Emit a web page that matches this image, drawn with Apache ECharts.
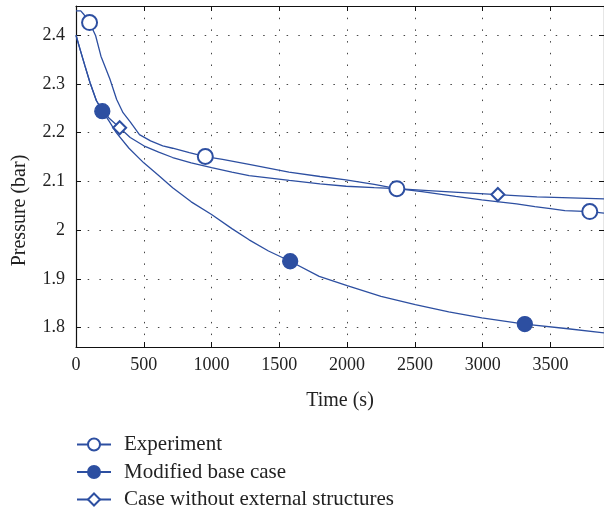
<!DOCTYPE html>
<html>
<head>
<meta charset="utf-8">
<script src="https://cdn.jsdelivr.net/npm/echarts@6/dist/echarts.min.js"></script>
<style>
html, body { margin: 0; padding: 0; background: #fff; }
#chart { width: 604px; height: 509px; }
</style>
</head>
<body>
<div id="chart"></div>
<script>
// values
const xTicks = [0, 500, 1000, 1500, 2000, 2500, 3000, 3500];
const yTicks = [1.8, 1.9, 2, 2.1, 2.2, 2.3, 2.4];

const expTime = [0, 35, 60, 100, 145, 184, 250, 300, 347, 400, 468, 550, 640, 713, 836, 954, 1081, 1277, 1571, 1800, 1991, 2200, 2367, 2552, 2800, 2993, 3120, 3250, 3385, 3500, 3606, 3700, 3790, 3895];
const expP = [2.450, 2.450, 2.442, 2.426, 2.399, 2.357, 2.310, 2.268, 2.241, 2.222, 2.196, 2.183, 2.173, 2.168, 2.159, 2.151, 2.145, 2.135, 2.119, 2.110, 2.103, 2.094, 2.085, 2.079, 2.069, 2.062, 2.058, 2.054, 2.048, 2.044, 2.040, 2.039, 2.038, 2.035];
const expMarks = [100, 954, 2367, 3790];

const modTime = [0, 30, 66, 103, 150, 194, 243, 297, 391, 500, 610, 713, 850, 1000, 1150, 1277, 1420, 1580, 1794, 2000, 2250, 2503, 2750, 2994, 3311, 3613, 3895];
const modP = [2.400, 2.371, 2.337, 2.303, 2.266, 2.244, 2.224, 2.200, 2.168, 2.138, 2.112, 2.087, 2.058, 2.032, 2.003, 1.980, 1.957, 1.936, 1.905, 1.886, 1.864, 1.847, 1.832, 1.820, 1.807, 1.798, 1.789];
const modMarks = [194, 1580, 3311];

const noExtTime = [0, 30, 66, 103, 150, 194, 243, 322, 400, 500, 610, 713, 850, 1000, 1150, 1277, 1574, 1800, 1993, 2200, 2367, 2600, 2850, 3112, 3400, 3650, 3895];
const noExtP = [2.400, 2.371, 2.337, 2.303, 2.266, 2.246, 2.230, 2.210, 2.190, 2.173, 2.160, 2.149, 2.138, 2.128, 2.119, 2.112, 2.102, 2.095, 2.090, 2.087, 2.085, 2.081, 2.077, 2.073, 2.068, 2.066, 2.064];
const noExtMarks = [322, 3112];

const names = ['Experiment', 'Modified base case', 'Case without external structures'];

const blue = '#2d4fa1';
const serif = 'Liberation Serif';

function points(ts, ps, marks) {
	return ts.map((t, i) => marks.indexOf(t) >= 0
		? {value: [t, ps[i]]}
		: {value: [t, ps[i]], symbol: 'none'});
}

function lineSeries(name, data, symbol, size) {
	return {
		name: name,
		type: 'line',
		data: data,
		symbol: symbol,
		symbolSize: size,
		showAllSymbol: true,
		lineStyle: { color: blue, width: 1.3 },
		itemStyle: { color: blue, borderColor: blue, borderWidth: 1.3 },
		emphasis: { disabled: true },
		animation: false
	};
}

const tickStyle = { inside: true, length: 5, lineStyle: { color: '#111', width: 1 } };
const dotted = { show: true, lineStyle: { color: '#444', width: 1, type: [1.5, 10.2] } };
const axisLine = { show: true, onZero: false, lineStyle: { color: '#111', width: 1.2 } };
const labelText = { color: '#222', fontFamily: serif, fontSize: 18, formatter: v => String(v) };

const chart = echarts.init(document.getElementById('chart'));
chart.setOption({
	animation: false,
	grid: { left: 76, top: 6, width: 530, height: 341 },
	xAxis: [
		{
			type: 'value', min: 0, max: 3895, position: 'bottom',
			axisLine: axisLine,
			axisTick: Object.assign({ customValues: xTicks }, tickStyle),
			axisLabel: Object.assign({ customValues: xTicks, margin: 9 }, labelText),
			splitLine: dotted,
			name: 'Time (s)', nameLocation: 'middle', nameGap: 44,
			nameTextStyle: { color: '#222', fontFamily: serif, fontSize: 20 }
		},
		{
			type: 'value', min: 0, max: 3895, position: 'top',
			axisLine: axisLine,
			axisTick: Object.assign({ customValues: xTicks }, tickStyle),
			axisLabel: { show: false },
			splitLine: { show: false }
		}
	],
	yAxis: [
		{
			type: 'value', min: 1.76, max: 2.46, position: 'left',
			axisLine: axisLine,
			axisTick: Object.assign({ customValues: yTicks }, tickStyle),
			axisLabel: Object.assign({ customValues: yTicks, margin: 11 }, labelText),
			splitLine: dotted,
			name: 'Pressure (bar)', nameLocation: 'middle', nameGap: 46,
			nameTextStyle: { color: '#222', fontFamily: serif, fontSize: 20, padding: [0, 68, 0, 0] }
		},
		{
			type: 'value', min: 1.76, max: 2.46, position: 'right',
			axisLine: axisLine,
			axisTick: Object.assign({ customValues: yTicks }, tickStyle),
			axisLabel: { show: false },
			splitLine: { show: false }
		}
	],
	legend: {
		orient: 'vertical',
		left: 76,
		top: 434,
		height: 120,
		padding: 0,
		itemWidth: 34,
		itemHeight: 15,
		itemGap: 6.5,
		data: names,
		textStyle: { color: '#222', fontFamily: serif, fontSize: 21, padding: [0, 0, 0, 8] }
	},
	series: [
		lineSeries(names[0], points(expTime, expP, expMarks), 'emptyCircle', 15),
		lineSeries(names[1], points(modTime, modP, modMarks), 'circle', 15),
		lineSeries(names[2], points(noExtTime, noExtP, noExtMarks), 'emptyDiamond', 13)
	]
});
</script>
</body>
</html>
